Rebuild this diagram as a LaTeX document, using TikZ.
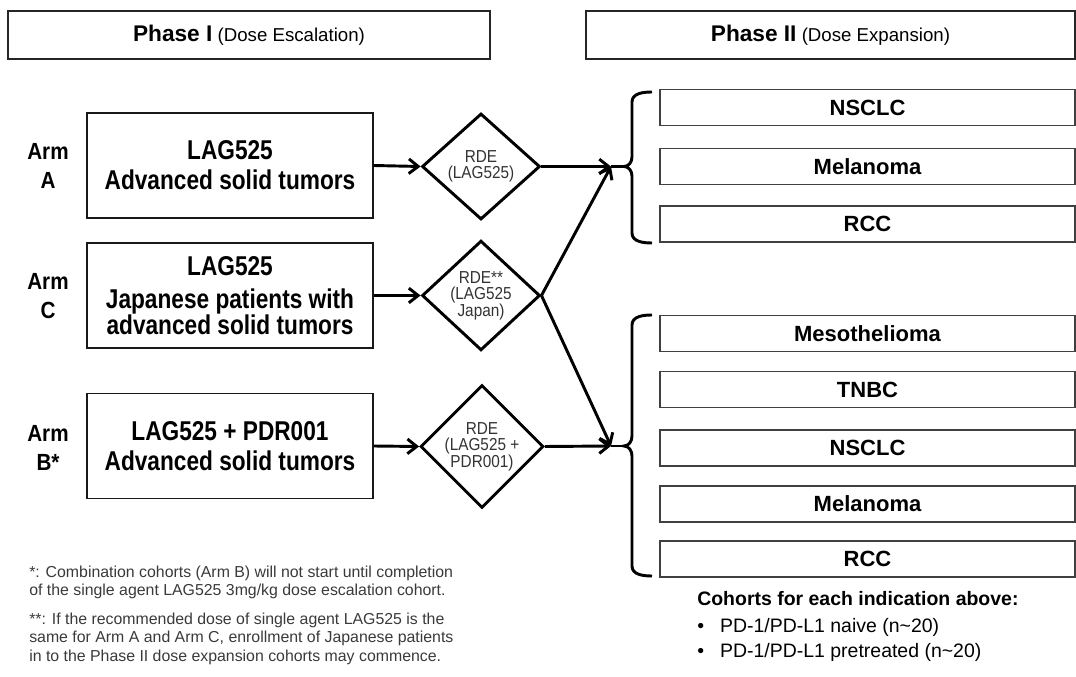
\documentclass[tikz,border=0pt]{standalone}
\usepackage{fontspec}
\usepackage{graphicx}
\setmainfont{Liberation Sans}
\usetikzlibrary{shapes.geometric,arrows.meta}
\definecolor{fgray}{HTML}{3A3A3A}
\newcommand{\tlA}[1]{\scalebox{1}[1.2]{#1}}
\newcommand{\tlB}[1]{\scalebox{1}[1.13]{#1}}
\newcommand{\nolsk}{\lineskiplimit=-30pt\relax}
\begin{document}
\begin{tikzpicture}[x=0.75pt,y=-0.75pt,
  phasebox/.style={draw=black!85,line width=1.1pt,minimum width=#1*0.75pt,minimum height=48*0.75pt,inner sep=0pt},
  armbox/.style={draw=black!90,line width=1.1pt,minimum width=286*0.75pt,minimum height=105*0.75pt,inner sep=0pt,align=center,font=\fontsize{17}{22.5}\selectfont\bfseries\nolsk},
  armlabel/.style={align=center,inner sep=0pt,font=\fontsize{15.5}{21.5}\selectfont\bfseries\nolsk},
  rde/.style={diamond,draw=black,line width=2.2pt,minimum width=118*0.75pt,minimum height=106*0.75pt,inner sep=0pt,align=center,text=black!80,font=\fontsize{11.5}{12.3}\selectfont\nolsk},
  cohort/.style={draw=black!75,line width=1.1pt,minimum width=415*0.75pt,minimum height=36*0.75pt,inner sep=0pt,font=\fontsize{16.5}{20}\selectfont\bfseries},
  conn/.style={line width=2.2pt,black},
  arr/.style={conn,-{Straight Barb[length=7pt,width=11pt]}},
  bracestyle/.style={line width=2.2pt,black},
  note/.style={align=left,inner sep=0pt,text=fgray,font=\fontsize{11.9}{13.6}\selectfont}
]
\useasboundingbox (0,0) rectangle (1076,677);

% phase headers
\node[phasebox=482] (p1) at (249,35) {\fontsize{17}{20}\selectfont\bfseries Phase I\fontsize{14}{16}\selectfont\mdseries{} (Dose Escalation)};
\node[phasebox=489] (p2) at (830.5,35) {\fontsize{17}{20}\selectfont\bfseries Phase II\fontsize{14}{16}\selectfont\mdseries{} (Dose Expansion)};

% arm labels
\node[armlabel] (la) at (48,166) {\tlB{Arm}\\\tlB{A}};
\node[armlabel] (lc) at (48,296) {\tlB{Arm}\\\tlB{C}};
\node[armlabel] (lb) at (48,448) {\tlB{Arm}\\\tlB{B*}};

% arm boxes
\node[armbox] (a) at (230,165.5) {\tlA{LAG525}\\\tlA{Advanced solid tumors}};
\node[armbox] (c) at (230,295.5) {\tlA{LAG525}\\[2pt]\tlA{Japanese patients with}\\[-3pt]\tlA{advanced solid tumors}};
\node[armbox] (b) at (230,446) {\tlA{LAG525 + PDR001}\\\tlA{Advanced solid tumors}};

% diamonds
\node[rde] (d1) at (481,166.5) {\tlB{RDE}\\\tlB{(LAG525)}};
\node[rde] (d2) at (481,295.5) {\tlB{RDE**}\\\tlB{(LAG525}\\\tlB{Japan)}};
\node[rde] (d3) at (482,446.5) {\tlB{RDE}\\\tlB{(LAG525 +}\\\tlB{PDR001)}};

% arrows box -> diamond
\draw[arr] (a.east) -- (d1.west);
\draw[arr] (c.east) -- (d2.west);
\draw[arr] (b.east) -- (d3.west);

% junctions and brace cusps
\coordinate (j1) at (611,166.5);
\coordinate (j2) at (611,446);
\coordinate (b1) at (624,166.5);
\coordinate (b2) at (624,446);

\draw[arr] (d1.east) -- (j1);
\draw[arr] (d2.east) -- (j1);
\draw[arr] (d2.east) -- (j2);
\draw[arr] (d3.east) -- (j2);
\draw[conn] (j1) -- (b1);
\draw[conn] (j2) -- (b2);

% braces
\draw[bracestyle] (652,92) to[out=180,in=90] (632,102) -- (632,157) to[out=-90,in=0] (b1) to[out=0,in=90] (632,176) -- (632,233) to[out=-90,in=180] (652,243);
\draw[bracestyle] (652,315) to[out=180,in=90] (632,325) -- (632,436) to[out=-90,in=0] (b2) to[out=0,in=90] (632,456) -- (632,566) to[out=-90,in=180] (652,576);

% cohort boxes
\node[cohort] (r1) at (867.5,107.5) {NSCLC};
\node[cohort] (r2) at (867.5,166.5) {Melanoma};
\node[cohort] (r3) at (867.5,224) {RCC};
\node[cohort] (s1) at (867.5,333.5) {Mesothelioma};
\node[cohort] (s2) at (867.5,389.5) {TNBC};
\node[cohort] (s3) at (867.5,448) {NSCLC};
\node[cohort] (s4) at (867.5,504) {Melanoma};
\node[cohort] (s5) at (867.5,559) {RCC};

% footnotes
\node[note,anchor=north west] (n1) at (29,566) {*: Combination cohorts (Arm B) will not start until completion\\of the single agent LAG525 3mg/kg dose escalation cohort.};
\node[note,anchor=north west] (n2) at (29,613) {**: If the recommended dose of single agent LAG525 is the\\same for Arm A and Arm C, enrollment of Japanese patients\\in to the Phase II dose expansion cohorts may commence.};
\node[align=left,inner sep=0pt,anchor=north west,font=\fontsize{14.6}{19}\selectfont] (n3) at (697,591) {\textbf{Cohorts for each indication above:}\\[1pt]
\textbullet\hspace{12pt}PD-1/PD-L1 naive (n\textasciitilde20)\\
\textbullet\hspace{12pt}PD-1/PD-L1 pretreated (n\textasciitilde20)};
\end{tikzpicture}
\end{document}
